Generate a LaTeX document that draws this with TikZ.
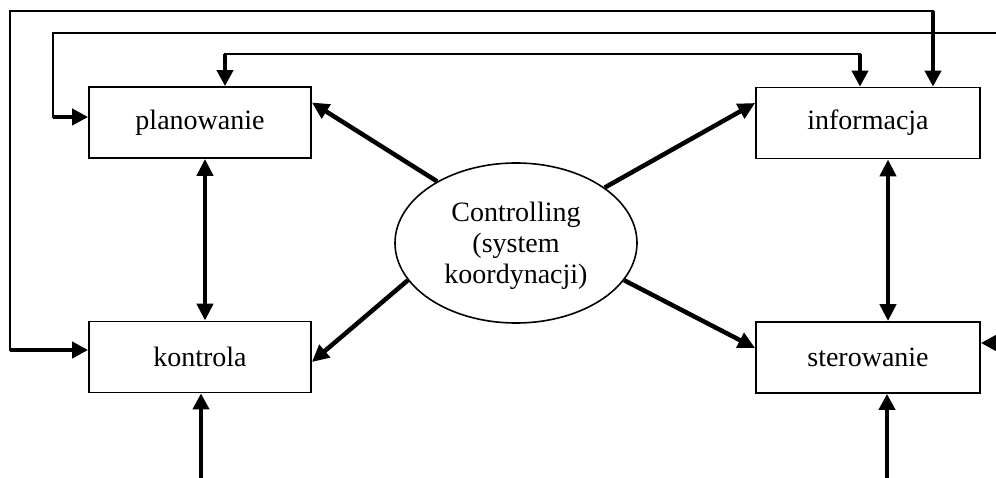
\documentclass[tikz,border=0pt]{standalone}
\usepackage{fontspec}
\setmainfont{Liberation Serif}
\usetikzlibrary{arrows.meta,shapes.geometric,calc}
\tikzset{block/.style={draw, line width=1.8pt, minimum width=222pt, minimum height=71pt, inner sep=0pt}}
\tikzset{hub/.style={draw, ellipse, line width=1.6pt, minimum width=242pt, minimum height=160pt, align=center, inner sep=0pt}}
\tikzset{
  edgemain/.style={line width=4.5pt, -{Triangle[length=17pt,width=16pt]}},
  edgeboth/.style={line width=4.5pt, {Triangle[length=17pt,width=16pt]}-{Triangle[length=17pt,width=16pt]}},
  edgein/.style={line width=4pt, -{Triangle[length=16pt,width=16pt]}},
  edgeloop/.style={line width=2.2pt, line cap=rect}
}

\begin{document}
\begin{tikzpicture}[x=1pt,y=-1pt,font=\fontsize{28}{31}\selectfont]
\useasboundingbox (0,0) rectangle (996,478);

\node[block](plan) at (200,122.5) {planowanie};

\node[block](kontr) at (200,357) {kontrola};

\node[block, minimum width=224pt](info) at (868,123) {informacja};

\node[block, minimum width=224pt](ster) at (868,357.5) {sterowanie};

\node[hub, text depth=-4pt](ctrl) at (516,243) {Controlling\\(system\\koordynacji)};

\draw[edgemain] (ctrl.142) -- ([yshift=20pt]plan.east);
\draw[edgemain] (ctrl.32) -- ([yshift=20pt]info.west);
\draw[edgemain] (ctrl.199) -- ([yshift=-5pt]kontr.east);
\draw[edgemain] (ctrl.341) -- ([yshift=9.5pt]ster.west);

\draw[edgeboth] ([xshift=5pt]plan.south) -- ([xshift=5pt]kontr.north);
\draw[edgeboth] ([xshift=20pt]info.south) -- ([xshift=20pt]ster.north);

% feedback loops
\coordinate (k1) at (10,350);
\coordinate (i1) at (933,11);
\draw[edgeloop] (k1) |- (i1);
\draw[edgein] (k1) -- (kontr.west |- k1);
\draw[edgein] (i1) -- (info.north -| i1);

\coordinate (p0) at (996,33);
\coordinate (p1) at (53,117);
\draw[edgeloop] (p0) -| (p1);
\draw[edgein] (p1) -- (plan.west |- p1);

\coordinate (t1) at (225,54);
\coordinate (t2) at (860,54);
\draw[edgeloop] (t1) -- (t2);
\draw[edgein] (t1) -- (plan.north -| t1);
\draw[edgein] (t2) -- (info.north -| t2);

% inputs from outside
\coordinate (b1) at (201,478);
\coordinate (b2) at (887,478);
\coordinate (r1) at (996,343);
\draw[edgein] (b1) -- (kontr.south -| b1);
\draw[edgein] (b2) -- (ster.south -| b2);
\draw[edgein] (r1) -- (ster.east |- r1);
\end{tikzpicture}
\end{document}
